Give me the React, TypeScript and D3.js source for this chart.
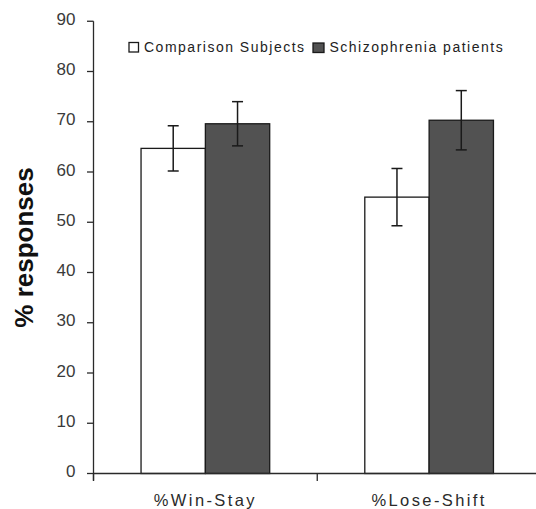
import React from "react";
import * as d3 from "d3";

const categories = ["%Win-Stay", "%Lose-Shift"];
const seriesNames = ["Comparison Subjects", "Schizophrenia patients"];
const comparisonMeans = [64.7, 55.0];
const comparisonErr = [4.5, 5.7];
const patientMeans = [69.6, 70.3];
const patientErr = [4.4, 5.9];
const yTicks = [0, 10, 20, 30, 40, 50, 60, 70, 80, 90];
const yTitle = "% responses";

const W = 536;
const H = 509;
const FONT = "'Liberation Sans', Arial, Helvetica, sans-serif";
const fills = ["#ffffff", "#525252"];

export default function App() {
  const y = d3.scaleLinear().domain([0, 90]).range([473.5, 21.25]);
  const x0 = d3.scaleBand<string>().domain(categories).range([93.5, 541]).paddingInner(0).paddingOuter(0);
  const groupW = x0.bandwidth() * 0.575;
  const x1 = d3.scaleBand<string>().domain(seriesNames).range([0, groupW]).padding(0);
  const groupOffset = (x0.bandwidth() - groupW) / 2;

  const means = [comparisonMeans, patientMeans];
  const errs = [comparisonErr, patientErr];
  const axisColor = "#2a2a2a";
  const y0 = y(0);
  const xLeft = x0.range()[0];
  const cap = 11;

  const boundaries = [...categories.map((c) => x0(c) as number), x0.range()[1]];

  return (
    <svg width={W} height={H} style={{ position: "absolute", left: 0, top: 0, background: "#fff" }} fontFamily={FONT}>
      {/* bars */}
      {categories.map((c, ci) =>
        seriesNames.map((s, si) => {
          const bx = (x0(c) as number) + groupOffset + (x1(s) as number);
          const v = means[si][ci];
          return (
            <rect
              key={c + s}
              x={bx}
              y={y(v)}
              width={x1.bandwidth()}
              height={y0 - y(v)}
              fill={fills[si]}
              stroke="#1a1a1a"
              strokeWidth={1.3}
            />
          );
        })
      )}
      {/* error bars */}
      {categories.map((c, ci) =>
        seriesNames.map((s, si) => {
          const cx = (x0(c) as number) + groupOffset + (x1(s) as number) + x1.bandwidth() / 2;
          const v = means[si][ci];
          const e = errs[si][ci];
          return (
            <g key={"e" + c + s} stroke="#1a1a1a" strokeWidth={1.5}>
              <line x1={cx} x2={cx} y1={y(v + e)} y2={y(v - e)} />
              <line x1={cx - cap / 2} x2={cx + cap / 2} y1={y(v + e)} y2={y(v + e)} />
              <line x1={cx - cap / 2} x2={cx + cap / 2} y1={y(v - e)} y2={y(v - e)} />
            </g>
          );
        })
      )}
      {/* y axis */}
      <line x1={xLeft} x2={xLeft} y1={y(90)} y2={y0 + 7} stroke={axisColor} strokeWidth={1.3} />
      {yTicks.map((t) => (
        <g key={t}>
          <line x1={xLeft - 6.5} x2={xLeft} y1={y(t)} y2={y(t)} stroke={axisColor} strokeWidth={1.3} />
          <text
            x={75.5}
            y={y(t)}
            dy="0.22em"
            textAnchor="end"
            fontSize={17}
            fill="#3a3a3a"
          >
            {t}
          </text>
        </g>
      ))}
      {/* x axis */}
      <line x1={xLeft} x2={x0.range()[1]} y1={y0} y2={y0} stroke={axisColor} strokeWidth={1.3} />
      {boundaries.map((b, i) => (
        <line key={"b" + i} x1={b} x2={b} y1={y0} y2={y0 + 7.5} stroke={axisColor} strokeWidth={1.3} />
      ))}
      {categories.map((c) => (
        <text
          key={"l" + c}
          x={(x0(c) as number) + x0.bandwidth() / 2}
          y={506}
          textAnchor="middle"
          fontSize={16.5}
          letterSpacing={2.4}
          fill="#2a2a2a"
        >
          {c}
        </text>
      ))}
      {/* y title */}
      <text
        transform={`translate(33,247.5) rotate(-90)`}
        textAnchor="middle"
        fontSize={26}
        fontWeight="bold"
        fill="#111"
      >
        {yTitle}
      </text>
      {/* legend */}
      <g>
        <rect x={129} y={42.5} width={9.5} height={9.5} fill={fills[0]} stroke="#1a1a1a" strokeWidth={1.3} />
        <text x={144} y={51.5} fontSize={14} letterSpacing={1.5} fill="#222">
          {seriesNames[0]}
        </text>
        <rect x={313} y={43} width={11} height={9.5} fill={fills[1]} stroke="#1a1a1a" strokeWidth={1.3} />
        <text x={329.5} y={51.5} fontSize={14} letterSpacing={1.5} fill="#222">
          {seriesNames[1]}
        </text>
      </g>
    </svg>
  );
}
